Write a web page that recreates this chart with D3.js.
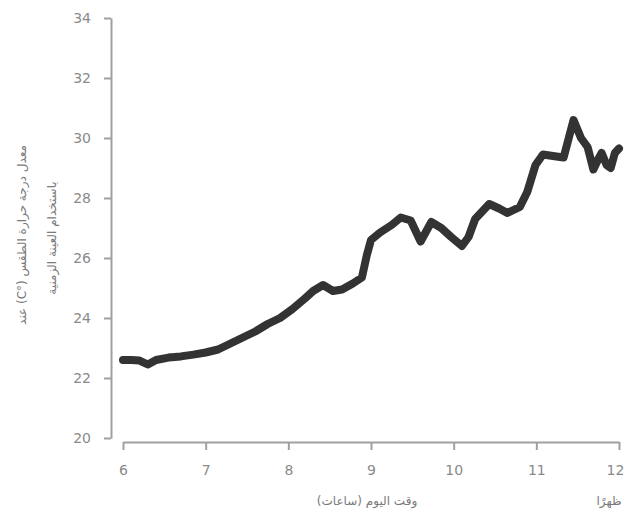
<!DOCTYPE html>
<html>
<head>
<meta charset="utf-8">
<script src="https://cdn.jsdelivr.net/npm/d3@7"></script>
<style>
  body { margin: 0; background: #fff; }
  .tick text { font-family: "DejaVu Sans", sans-serif; font-size: 14px; fill: #8a8a8a; }
  .axis path, .axis line { stroke: #a0a0a0; stroke-width: 2; }
  .axis-title { font-family: "DejaVu Sans", sans-serif; font-size: 12px; fill: #7a7a7a; }
</style>
</head>
<body>
<div id="chart"></div>
<script>
// time of day (hours)
const hours = [6.00, 6.10, 6.20, 6.30, 6.40, 6.55, 6.70, 6.85, 7.00, 7.15, 7.30, 7.45, 7.60, 7.75, 7.90,
  8.05, 8.20, 8.30, 8.42, 8.54, 8.65, 8.78, 8.89, 8.95, 9.00, 9.11, 9.25, 9.36, 9.48, 9.60, 9.73,
  9.85, 9.97, 10.10, 10.18, 10.26, 10.43, 10.55, 10.65, 10.80, 10.89, 10.99, 11.08, 11.20, 11.33,
  11.45, 11.54, 11.62, 11.69, 11.75, 11.79, 11.85, 11.90, 11.95, 12.00];
// temperature (°C)
const temps = [22.6, 22.6, 22.58, 22.45, 22.6, 22.68, 22.72, 22.78, 22.85, 22.95, 23.15, 23.35, 23.55, 23.8, 24.0,
  24.3, 24.65, 24.9, 25.1, 24.9, 24.95, 25.15, 25.35, 26.1, 26.6, 26.85, 27.1, 27.35, 27.25, 26.55, 27.2,
  27.0, 26.7, 26.4, 26.7, 27.3, 27.8, 27.65, 27.5, 27.7, 28.2, 29.1, 29.45, 29.4, 29.35,
  30.6, 30.0, 29.7, 28.95, 29.3, 29.5, 29.1, 29.0, 29.5, 29.65];

const xTicks = [6, 7, 8, 9, 10, 11, 12];
const yTicks = [20, 22, 24, 26, 28, 30, 32, 34];
const xTitle = "وقت اليوم (ساعات)";
const noonLabel = "ظهرًا";
const yTitle1 = "معدل درجة حرارة الطقس (°C) عند";
const yTitle2 = "باستخدام العينة الزمنية";

const width = 627, height = 517;
const margin = { left: 123, right: 8, top: 18, bottom: 79 };

const data = hours.map((h, i) => ({ h: h, t: temps[i] }));

const svg = d3.select("#chart").append("svg")
    .attr("width", width)
    .attr("height", height);

const xScale = d3.scaleLinear().domain([6, 12]).range([margin.left, width - margin.right]);
const yScale = d3.scaleLinear().domain([20, 34]).range([height - margin.bottom, margin.top]);

// axes (offset from each other like the original)
const xAxis = d3.axisBottom(xScale).tickValues(xTicks).tickFormat(d3.format("d"))
    .tickSize(8).tickPadding(15).tickSizeOuter(0);
const yAxis = d3.axisLeft(yScale).tickValues(yTicks).tickFormat(d3.format("d"))
    .tickSize(7).tickPadding(13).tickSizeOuter(0);

const gx = svg.append("g")
    .attr("class", "axis x")
    .attr("transform", "translate(0," + (yScale(20) + 4) + ")")
    .call(xAxis);

// keep the last label inside the page
gx.selectAll(".tick text").filter((d) => d === 12).attr("dx", -4);

svg.append("g")
    .attr("class", "axis y")
    .attr("transform", "translate(" + (margin.left - 12) + ",0)")
    .call(yAxis);

// line
const line = d3.line()
    .x((d) => xScale(d.h))
    .y((d) => yScale(d.t))
    .curve(d3.curveLinear);

svg.append("path")
    .datum(data)
    .attr("fill", "none")
    .attr("stroke", "#333")
    .attr("stroke-width", 8)
    .attr("stroke-linejoin", "round")
    .attr("stroke-linecap", "round")
    .attr("d", line);

// titles
svg.append("text")
    .attr("class", "axis-title")
    .attr("text-anchor", "middle")
    .attr("direction", "rtl")
    .attr("x", 367)
    .attr("y", 505)
    .text(xTitle);

svg.append("text")
    .attr("class", "axis-title")
    .attr("text-anchor", "middle")
    .attr("direction", "rtl")
    .attr("x", xScale(12) - 10)
    .attr("y", 505)
    .text(noonLabel);

svg.append("text")
    .attr("class", "axis-title")
    .attr("text-anchor", "middle")
    .attr("direction", "rtl")
    .attr("transform", "translate(26,235) rotate(-90)")
    .text(yTitle1);

svg.append("text")
    .attr("class", "axis-title")
    .attr("text-anchor", "middle")
    .attr("direction", "rtl")
    .attr("transform", "translate(56,238) rotate(-90)")
    .text(yTitle2);
</script>
</body>
</html>
